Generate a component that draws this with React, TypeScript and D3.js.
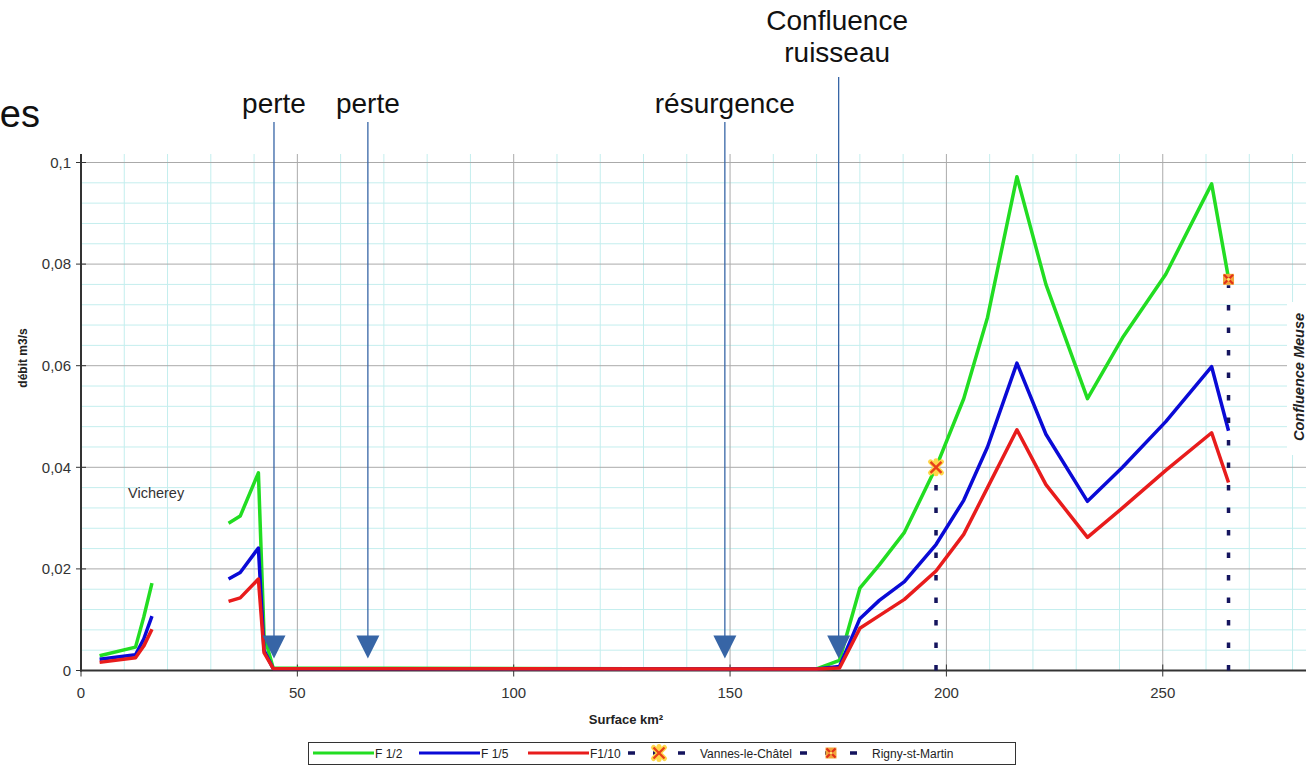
import React from 'react';
import * as d3 from 'd3';

const W = 1306;
const H = 767;

const xTicks = [0, 50, 100, 150, 200, 250];
const xTickLabels = ['0', '50', '100', '150', '200', '250'];
const yTicks = [0, 0.02, 0.04, 0.06, 0.08, 0.1];
const yTickLabels = ['0', '0,02', '0,04', '0,06', '0,08', '0,1'];

// Surface km² (x) — null entry at 25 breaks the line
const surface = [4.3, 12.6, 14.5, 16.4, 25, 34.1, 36.8, 41.0, 42.3, 44.4, 170, 175.3, 180, 184.5, 190.3, 197.6, 204, 209.5, 216.3, 223, 232.6, 240.7, 250.7, 261.3, 265.2];
const f12 = [0.0029, 0.0046, 0.0105, 0.0172, null, 0.029, 0.0304, 0.0389, 0.007, 0.0005, 0.0003, 0.002, 0.0162, 0.0208, 0.0272, 0.04, 0.0535, 0.0695, 0.0972, 0.076, 0.0535, 0.0655, 0.078, 0.0958, 0.0772];
const f15 = [0.0022, 0.0031, 0.0062, 0.0107, null, 0.018, 0.0193, 0.0241, 0.004, 0.0004, 0.0003, 0.0008, 0.0102, 0.0138, 0.0175, 0.0248, 0.0335, 0.044, 0.0605, 0.0465, 0.0333, 0.040, 0.049, 0.0598, 0.0472];
const f110 = [0.0016, 0.0025, 0.0048, 0.0081, null, 0.0136, 0.0143, 0.018, 0.0035, 0.0004, 0.0003, 0.0005, 0.0083, 0.0108, 0.014, 0.0196, 0.0268, 0.036, 0.0474, 0.0366, 0.0262, 0.032, 0.0394, 0.0468, 0.037];

const seriesNames = ['F 1/2', 'F 1/5', 'F1/10'];
const seriesColors = ['#22dd22', '#0a0ad6', '#e81c1c'];
const seriesValues = [f12, f15, f110];

const pointNames = ['Vannes-le-Châtel', 'Rigny-st-Martin'];
const pointX = [197.6, 265.2];
const pointY = [0.04, 0.077];

const annotLabels = [['perte'], ['perte'], ['résurgence'], ['Confluence', 'ruisseau']];
const annotX = [44.6, 66.3, 148.8, 175.1];

const FONT = 'Liberation Sans, Arial, sans-serif';
const ANNOT = '#3765a6';
const NAVY = '#14145e';

function VannesMarker({ cx, cy }: { cx: number; cy: number }) {
  const s = 5.5;
  return (
    <g>
      <path d={`M${cx - s},${cy - s}L${cx + s},${cy + s}M${cx - s},${cy + s}L${cx + s},${cy - s}M${cx},${cy - s - 1}L${cx},${cy + s + 1}`} stroke="#ffd84a" strokeWidth={5} strokeLinecap="round" />
      <path d={`M${cx - s},${cy - s}L${cx + s},${cy + s}M${cx - s},${cy + s}L${cx + s},${cy - s}`} stroke="#e8401a" strokeWidth={2.4} />
    </g>
  );
}

function RignyMarker({ cx, cy }: { cx: number; cy: number }) {
  const s = 5.5;
  return (
    <g>
      <rect x={cx - s} y={cy - s} width={2 * s} height={2 * s} fill="#f2a43a" />
      <path d={`M${cx - s + 1},${cy - s + 1}L${cx + s - 1},${cy + s - 1}M${cx - s + 1},${cy + s - 1}L${cx + s - 1},${cy - s + 1}`} stroke="#e0301a" strokeWidth={2.2} />
      <circle cx={cx} cy={cy} r={1.6} fill="#ffe066" />
    </g>
  );
}

export default function App() {
  const x = d3.scaleLinear().domain([0, 300]).range([81, 81 + 300 * 4.327]);
  const y = d3.scaleLinear().domain([0, 0.1]).range([670.5, 162.5]);
  const plotTop = 154;
  const plotLeft = x(0);
  const plotRight = W;
  const y0 = y(0);

  const minorX = d3.range(0, 301, 10).filter((v) => v % 50 !== 0);
  const minorY = d3.range(0, 26).filter((i) => i % 5 !== 0).map((i) => i * 0.004);

  const makePath = (vals: (number | null)[]) => {
    const idx = vals.map((_, i) => i);
    const l = d3
      .line<number>()
      .defined((i) => vals[i] != null)
      .x((i) => x(surface[i]))
      .y((i) => y(vals[i] as number));
    return l(idx) || '';
  };

  const legendY = 753;

  return (
    <svg width={W} height={H} style={{ position: 'absolute', left: 0, top: 0, background: '#fff' }} fontFamily={FONT}>
      <rect x={0} y={0} width={W} height={H} fill="#fff" />
      {/* minor grid */}
      {minorX.map((v) => (
        <line key={'mx' + v} x1={x(v)} x2={x(v)} y1={plotTop} y2={y0} stroke="#c4eeee" strokeWidth={1} />
      ))}
      {minorY.map((v, i) => (
        <line key={'my' + i} x1={plotLeft} x2={plotRight} y1={y(v)} y2={y(v)} stroke="#c4eeee" strokeWidth={1} />
      ))}
      {/* major grid */}
      {xTicks.filter((v) => v > 0).map((v) => (
        <line key={'gx' + v} x1={x(v)} x2={x(v)} y1={plotTop} y2={y0} stroke="#aaaaaa" strokeWidth={1} />
      ))}
      {yTicks.filter((v) => v > 0).map((v) => (
        <line key={'gy' + v} x1={plotLeft} x2={plotRight} y1={y(v)} y2={y(v)} stroke="#aaaaaa" strokeWidth={1} />
      ))}

      {/* white box behind Confluence Meuse */}
      <rect x={1287} y={302} width={W - 1287} height={153} fill="#fff" />
      <text
        transform={`translate(1304, 377) rotate(-90)`}
        textAnchor="middle"
        fontSize={14.5}
        fontWeight="bold"
        fontStyle="italic"
        fill="#222"
      >
        Confluence Meuse
      </text>

      {/* axes */}
      <line x1={plotLeft} x2={plotLeft} y1={plotTop} y2={y0 + 1} stroke="#333" strokeWidth={2} />
      <line x1={plotLeft - 1} x2={plotRight} y1={y0} y2={y0} stroke="#333" strokeWidth={2} />
      {yTicks.map((v, i) => (
        <g key={'yt' + v}>
          <line x1={plotLeft - 5} x2={plotLeft + 5} y1={y(v)} y2={y(v)} stroke="#333" strokeWidth={1} />
          <text x={71} y={y(v) + 5.3} textAnchor="end" fontSize={15} fill="#333">
            {yTickLabels[i]}
          </text>
        </g>
      ))}
      {xTicks.map((v, i) => (
        <g key={'xt' + v}>
          <line x1={x(v)} x2={x(v)} y1={y0 - 6} y2={y0 + 6} stroke="#333" strokeWidth={1} />
          <text x={x(v)} y={698} textAnchor="middle" fontSize={15} fill="#333">
            {xTickLabels[i]}
          </text>
        </g>
      ))}
      <text transform={`translate(27, 358) rotate(-90)`} textAnchor="middle" fontSize={12} fontWeight="bold" fill="#222">
        débit m3/s
      </text>
      <text x={626} y={724} textAnchor="middle" fontSize={13} fontWeight="bold" fill="#222">
        Surface km²
      </text>

      <text x={128} y={498} fontSize={14.5} fill="#333">
        Vicherey
      </text>

      {/* series */}
      {seriesValues.map((vals, si) => (
        <path key={'s' + si} d={makePath(vals)} fill="none" stroke={seriesColors[si]} strokeWidth={3.5} strokeLinejoin="round" />
      ))}

      {/* dashed verticals + markers */}
      {pointX.map((px, i) => (
        <line
          key={'pd' + i}
          x1={x(px)}
          x2={x(px)}
          y1={y0}
          y2={y(pointY[i]) + 6}
          stroke={NAVY}
          strokeWidth={3.5}
          strokeDasharray="5.5,17"
        />
      ))}
      <VannesMarker cx={x(pointX[0])} cy={y(pointY[0])} />
      <RignyMarker cx={x(pointX[1])} cy={y(pointY[1])} />

      {/* annotations */}
      {annotX.map((ax, i) => {
        const cx = x(ax);
        const lines = annotLabels[i];
        const two = lines.length > 1;
        const lineTop = two ? 77 : 122;
        const triTop = y0 - 35;
        const triTip = y0 - 12;
        return (
          <g key={'an' + i}>
            <line x1={cx} x2={cx} y1={lineTop} y2={triTop + 2} stroke={ANNOT} strokeWidth={1.3} />
            <path d={`M${cx - 11.5},${triTop}L${cx + 11.5},${triTop}L${cx},${triTip}Z`} fill={ANNOT} />
            {lines.map((t, j) => (
              <text
                key={j}
                x={two ? cx - 1.5 : cx}
                y={two ? 30 + j * 31.7 : 113}
                textAnchor="middle"
                fontSize={28}
                fill="#111"
              >
                {t}
              </text>
            ))}
          </g>
        );
      })}

      <text x={40} y={127} textAnchor="end" fontSize={38} fill="#111">
        es
      </text>

      {/* legend */}
      <rect x={308.5} y={742.5} width={707} height={22} fill="#fff" stroke="#333" strokeWidth={1} />
      {seriesNames.map((n, i) => {
        const starts = [313, 419, 528];
        const sx = starts[i];
        return (
          <g key={'lg' + i}>
            <line x1={sx} x2={sx + 61} y1={legendY} y2={legendY} stroke={seriesColors[i]} strokeWidth={3} />
            <text x={sx + 62} y={legendY + 4.5} fontSize={12} fill="#222">
              {n}
            </text>
          </g>
        );
      })}
      {pointNames.map((n, i) => {
        const sx = [628, 800][i];
        return (
          <g key={'lp' + i}>
            <line x1={sx} x2={sx + 60} y1={legendY} y2={legendY} stroke={NAVY} strokeWidth={3.5} strokeDasharray="7,18" />
            {i === 0 ? <VannesMarker cx={sx + 31} cy={legendY} /> : <RignyMarker cx={sx + 31} cy={legendY} />}
            <text x={sx + 72} y={legendY + 4.5} fontSize={12} fill="#222">
              {n}
            </text>
          </g>
        );
      })}
    </svg>
  );
}
